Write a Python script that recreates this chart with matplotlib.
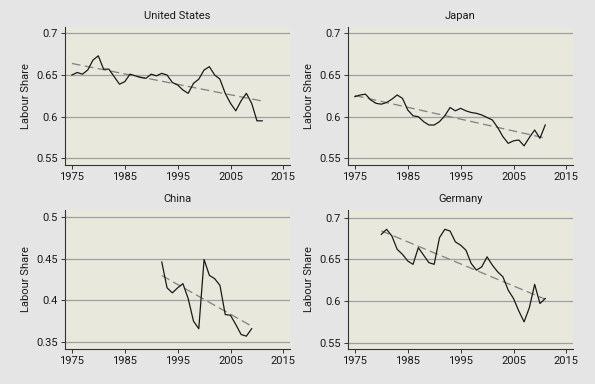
import numpy as np
import matplotlib
matplotlib.use("Agg")
import matplotlib.pyplot as plt

# Labour share by country
us_years = list(range(1975, 2012))
us_share = [0.650, 0.653, 0.651, 0.656, 0.668, 0.673, 0.657, 0.657, 0.648, 0.639,
            0.642, 0.651, 0.649, 0.647, 0.646, 0.651, 0.649, 0.652, 0.650, 0.641,
            0.638, 0.632, 0.628, 0.640, 0.645, 0.656, 0.660, 0.650, 0.645, 0.628,
            0.616, 0.607, 0.619, 0.628, 0.616, 0.595, 0.595]

jp_years = list(range(1975, 2012))
jp_share = [0.624, 0.626, 0.627, 0.620, 0.616, 0.615, 0.617, 0.621, 0.626, 0.622,
            0.608, 0.601, 0.600, 0.594, 0.590, 0.590, 0.594, 0.601, 0.611, 0.607,
            0.610, 0.607, 0.605, 0.604, 0.602, 0.599, 0.596, 0.587, 0.576, 0.568,
            0.571, 0.572, 0.565, 0.575, 0.584, 0.574, 0.590]

cn_years = list(range(1992, 2010))
cn_share = [0.446, 0.415, 0.409, 0.415, 0.420, 0.402, 0.375, 0.366, 0.449, 0.430,
            0.426, 0.418, 0.383, 0.382, 0.371, 0.359, 0.357, 0.366]

de_years = list(range(1980, 2012))
de_share = [0.680, 0.686, 0.678, 0.662, 0.656, 0.648, 0.644, 0.664, 0.655, 0.646,
            0.644, 0.676, 0.686, 0.684, 0.671, 0.667, 0.661, 0.645, 0.637, 0.641,
            0.653, 0.643, 0.635, 0.629, 0.613, 0.603, 0.588, 0.575, 0.592, 0.620,
            0.597, 0.603]

panels = [
    ("United States", us_years, us_share, [0.55, 0.6, 0.65, 0.7], (0.542, 0.7076)),
    ("Japan", jp_years, jp_share, [0.55, 0.6, 0.65, 0.7], (0.542, 0.7076)),
    ("China", cn_years, cn_share, [0.35, 0.4, 0.45, 0.5], (0.3416, 0.5084)),
    ("Germany", de_years, de_share, [0.55, 0.6, 0.65, 0.7], (0.5424, 0.7092)),
]
x_ticks = [1975, 1985, 1995, 2005, 2015]

W, H = 595, 384
# axes rectangles in pixels: left, top, right, bottom
boxes = [(65, 27, 290, 165), (348, 27, 573, 165),
         (65, 210, 290, 349), (348, 210, 573, 349)]

plt.rcParams["font.family"] = ["Roboto", "DejaVu Sans"]
fig = plt.figure(figsize=(W / 100, H / 100), dpi=100, facecolor="#e5e5e5")

for (title, years, share, yticks, ylim), (l, t, r, b) in zip(panels, boxes):
    ax = fig.add_axes([l / W, (H - b) / H, (r - l) / W, (b - t) / H])
    ax.set_facecolor("#e8e8dc")
    for side in ("top", "right"):
        ax.spines[side].set_visible(False)
    for side in ("left", "bottom"):
        ax.spines[side].set_color("#333333")
        ax.spines[side].set_linewidth(0.8)

    x = np.array(years)
    y = np.array(share)
    ax.plot(x, y, color="#1a1a1a", lw=0.9, zorder=3)

    # linear trend
    slope, icpt = np.polyfit(x, y, 1)
    ax.plot(x, slope * x + icpt, color="#808080", lw=0.9,
            dashes=(7, 3.5), zorder=2)

    ax.set_xlim(1973.7, 2016.25)
    ax.set_ylim(*ylim)
    ax.set_xticks(x_ticks)
    ax.set_yticks(yticks)
    ax.set_yticklabels([f"{v:g}" for v in yticks])
    ax.tick_params(axis="both", labelsize=8, length=3, width=0.7,
                   color="#333333", labelcolor="#1a1a1a", pad=2)
    ax.grid(axis="y", color="#a0a0a0", lw=0.9)
    ax.set_axisbelow(True)
    ax.set_ylabel("Labour Share", fontsize=8, color="#1a1a1a", labelpad=4)
    ax.set_title(title, fontsize=8, color="#1a1a1a", pad=6)

fig.savefig("out.png", dpi=100, facecolor=fig.get_facecolor())
